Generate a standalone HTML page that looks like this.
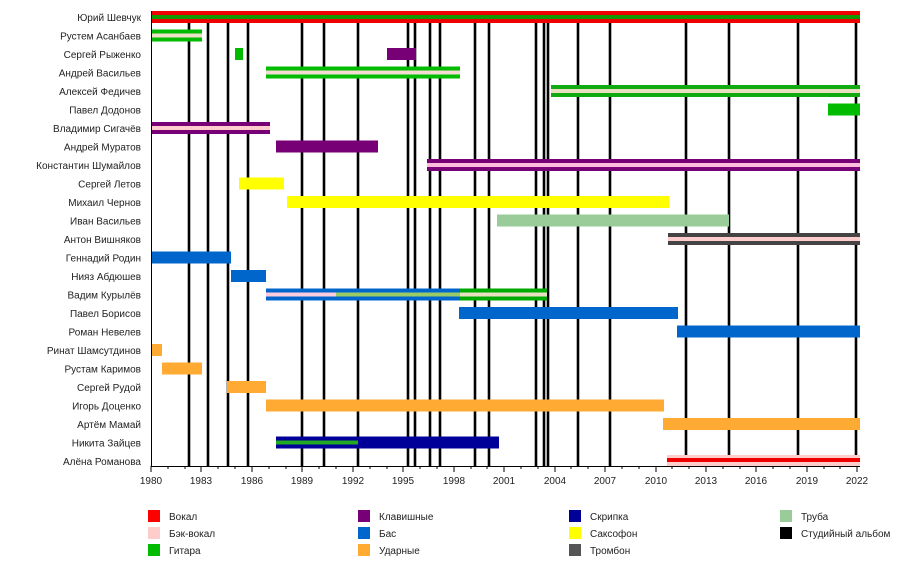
<!DOCTYPE html>
<html><head><meta charset="utf-8"><style>
body{margin:0;background:#fff}
svg{display:block;font-family:"Liberation Sans",sans-serif}
</style></head><body>
<svg width="900" height="566" viewBox="0 0 900 566" xmlns="http://www.w3.org/2000/svg">
<rect width="900" height="566" fill="#fff"/>
<g stroke="#000" stroke-width="2.6">
<line x1="189" y1="11" x2="189" y2="466"/><line x1="208" y1="11" x2="208" y2="466"/>
<line x1="228" y1="11" x2="228" y2="466"/><line x1="248" y1="11" x2="248" y2="466"/>
<line x1="302" y1="11" x2="302" y2="466"/><line x1="324" y1="11" x2="324" y2="466"/>
<line x1="358" y1="11" x2="358" y2="466"/><line x1="408" y1="11" x2="408" y2="466"/>
<line x1="415" y1="11" x2="415" y2="466"/><line x1="430" y1="11" x2="430" y2="466"/>
<line x1="440" y1="11" x2="440" y2="466"/><line x1="475" y1="11" x2="475" y2="466"/>
<line x1="489" y1="11" x2="489" y2="466"/><line x1="536" y1="11" x2="536" y2="466"/>
<line x1="544" y1="11" x2="544" y2="466"/><line x1="548" y1="11" x2="548" y2="466"/>
<line x1="578" y1="11" x2="578" y2="466"/><line x1="610" y1="11" x2="610" y2="466"/>
<line x1="686" y1="11" x2="686" y2="466"/><line x1="729" y1="11" x2="729" y2="466"/>
<line x1="798" y1="11" x2="798" y2="466"/><line x1="856" y1="11" x2="856" y2="466"/>
</g>
<!-- bars: row i top = 11 + i*18.5 -->
<rect x="151" y="11" width="709" height="12" fill="#e00"/><rect x="151" y="15" width="709" height="4" fill="#190"/>
<rect x="151" y="29.5" width="51" height="12" fill="#0b0"/><rect x="151" y="33.5" width="51" height="4" fill="#efe0c8"/>
<rect x="235" y="48" width="8" height="12" fill="#0b0"/><rect x="387" y="48" width="29" height="12" fill="#707"/>
<rect x="266" y="66.5" width="194" height="12" fill="#0b0"/><rect x="266" y="70.5" width="194" height="4" fill="#f4dcd4"/>
<rect x="551" y="85" width="309" height="12" fill="#1a1"/><rect x="551" y="89" width="309" height="4" fill="#e8e0c0"/>
<rect x="828" y="103.5" width="32" height="12" fill="#0b0"/>
<rect x="151" y="122" width="119" height="12" fill="#707"/><rect x="151" y="126" width="119" height="4" fill="#fcc"/>
<rect x="276" y="140.5" width="102" height="12" fill="#707"/>
<rect x="427" y="159" width="433" height="12" fill="#707"/><rect x="427" y="163" width="433" height="4" fill="#fbd"/>
<rect x="239" y="177.5" width="45" height="12" fill="#ff0"/>
<rect x="287" y="196" width="382" height="12" fill="#ff0"/>
<rect x="497" y="214.5" width="232" height="12" fill="#9c9"/>
<rect x="668" y="233" width="192" height="12" fill="#444"/><rect x="668" y="237" width="192" height="4" fill="#fcc"/>
<rect x="151" y="251.5" width="80" height="12" fill="#06c"/>
<rect x="231" y="270" width="35" height="12" fill="#06c"/>
<rect x="266" y="288.5" width="194" height="12" fill="#06c"/><rect x="266" y="292.5" width="70" height="4" fill="#fcd"/><rect x="336" y="292.5" width="124" height="4" fill="#9c6"/>
<rect x="460" y="288.5" width="87" height="12" fill="#0a0"/><rect x="460" y="292.5" width="87" height="4" fill="#e8e0c0"/>
<rect x="459" y="307" width="219" height="12" fill="#06c"/>
<rect x="677" y="325.5" width="183" height="12" fill="#06c"/>
<rect x="151" y="344" width="11" height="12" fill="#fa3"/>
<rect x="162" y="362.5" width="40" height="12" fill="#fa3"/>
<rect x="227" y="381" width="39" height="12" fill="#fa3"/>
<rect x="266" y="399.5" width="398" height="12" fill="#fa3"/>
<rect x="663" y="418" width="197" height="12" fill="#fa3"/>
<rect x="276" y="436.5" width="223" height="12" fill="#009"/><rect x="276" y="440.5" width="82" height="4" fill="#2a2"/>
<rect x="667" y="455" width="193" height="11" fill="#fcc"/><rect x="667" y="458" width="193" height="4" fill="#e00"/>
<!-- axis -->
<g stroke="#000" stroke-width="1">
<line x1="151" y1="466.5" x2="860" y2="466.5"/>
<line x1="151.5" y1="11" x2="151.5" y2="467"/>
</g>
<g stroke="#000" stroke-width="1" id="ticks">
<line x1="151" y1="466" x2="151" y2="472"/><line x1="168" y1="466" x2="168" y2="469"/><line x1="185" y1="466" x2="185" y2="469"/>
<line x1="201" y1="466" x2="201" y2="472"/><line x1="218" y1="466" x2="218" y2="469"/><line x1="235" y1="466" x2="235" y2="469"/>
<line x1="252" y1="466" x2="252" y2="472"/><line x1="269" y1="466" x2="269" y2="469"/><line x1="286" y1="466" x2="286" y2="469"/>
<line x1="302" y1="466" x2="302" y2="472"/><line x1="319" y1="466" x2="319" y2="469"/><line x1="336" y1="466" x2="336" y2="469"/>
<line x1="353" y1="466" x2="353" y2="472"/><line x1="370" y1="466" x2="370" y2="469"/><line x1="387" y1="466" x2="387" y2="469"/>
<line x1="403" y1="466" x2="403" y2="472"/><line x1="420" y1="466" x2="420" y2="469"/><line x1="437" y1="466" x2="437" y2="469"/>
<line x1="454" y1="466" x2="454" y2="472"/><line x1="471" y1="466" x2="471" y2="469"/><line x1="487" y1="466" x2="487" y2="469"/>
<line x1="504" y1="466" x2="504" y2="472"/><line x1="521" y1="466" x2="521" y2="469"/><line x1="538" y1="466" x2="538" y2="469"/>
<line x1="555" y1="466" x2="555" y2="472"/><line x1="571" y1="466" x2="571" y2="469"/><line x1="588" y1="466" x2="588" y2="469"/>
<line x1="605" y1="466" x2="605" y2="472"/><line x1="622" y1="466" x2="622" y2="469"/><line x1="639" y1="466" x2="639" y2="469"/>
<line x1="656" y1="466" x2="656" y2="472"/><line x1="672" y1="466" x2="672" y2="469"/><line x1="689" y1="466" x2="689" y2="469"/>
<line x1="706" y1="466" x2="706" y2="472"/><line x1="723" y1="466" x2="723" y2="469"/><line x1="740" y1="466" x2="740" y2="469"/>
<line x1="756" y1="466" x2="756" y2="472"/><line x1="773" y1="466" x2="773" y2="469"/><line x1="790" y1="466" x2="790" y2="469"/>
<line x1="807" y1="466" x2="807" y2="472"/><line x1="824" y1="466" x2="824" y2="469"/><line x1="840" y1="466" x2="840" y2="469"/>
<line x1="857" y1="466" x2="857" y2="472"/>
</g>
<g font-size="10" fill="#222" text-anchor="middle">
<text x="151" y="484">1980</text><text x="201" y="484">1983</text><text x="252" y="484">1986</text>
<text x="302" y="484">1989</text><text x="353" y="484">1992</text><text x="403" y="484">1995</text>
<text x="454" y="484">1998</text><text x="504" y="484">2001</text><text x="555" y="484">2004</text>
<text x="605" y="484">2007</text><text x="656" y="484">2010</text><text x="706" y="484">2013</text>
<text x="756" y="484">2016</text><text x="807" y="484">2019</text><text x="857" y="484">2022</text>
</g>
<g font-size="10" fill="#222" text-anchor="end">
<text x="141" y="21">Юрий Шевчук</text>
<text x="141" y="39.5">Рустем Асанбаев</text>
<text x="141" y="58">Сергей Рыженко</text>
<text x="141" y="76.5">Андрей Васильев</text>
<text x="141" y="95">Алексей Федичев</text>
<text x="141" y="113.5">Павел Додонов</text>
<text x="141" y="132">Владимир Сигачёв</text>
<text x="141" y="150.5">Андрей Муратов</text>
<text x="141" y="169">Константин Шумайлов</text>
<text x="141" y="187.5">Сергей Летов</text>
<text x="141" y="206">Михаил Чернов</text>
<text x="141" y="224.5">Иван Васильев</text>
<text x="141" y="243">Антон Вишняков</text>
<text x="141" y="261.5">Геннадий Родин</text>
<text x="141" y="280">Нияз Абдюшев</text>
<text x="141" y="298.5">Вадим Курылёв</text>
<text x="141" y="317">Павел Борисов</text>
<text x="141" y="335.5">Роман Невелев</text>
<text x="141" y="354">Ринат Шамсутдинов</text>
<text x="141" y="372.5">Рустам Каримов</text>
<text x="141" y="391">Сергей Рудой</text>
<text x="141" y="409.5">Игорь Доценко</text>
<text x="141" y="428">Артём Мамай</text>
<text x="141" y="446.5">Никита Зайцев</text>
<text x="141" y="465">Алёна Романова</text>
</g>
<!-- legend -->
<rect x="148" y="510" width="12" height="12" fill="#f00"/>
<rect x="148" y="527" width="12" height="12" fill="#fcc"/>
<rect x="148" y="544" width="12" height="12" fill="#0b0"/>
<rect x="358" y="510" width="12" height="12" fill="#707"/>
<rect x="358" y="527" width="12" height="12" fill="#06c"/>
<rect x="358" y="544" width="12" height="12" fill="#fa3"/>
<rect x="569" y="510" width="12" height="12" fill="#009"/>
<rect x="569" y="527" width="12" height="12" fill="#ff0"/>
<rect x="569" y="544" width="12" height="12" fill="#555"/>
<rect x="780" y="510" width="12" height="12" fill="#9c9"/>
<rect x="780" y="527" width="12" height="12" fill="#000"/>
<g font-size="10" fill="#222">
<text x="169" y="520">Вокал</text><text x="169" y="537">Бэк-вокал</text><text x="169" y="554">Гитара</text>
<text x="379" y="520">Клавишные</text><text x="379" y="537">Бас</text><text x="379" y="554">Ударные</text>
<text x="590" y="520">Скрипка</text><text x="590" y="537">Саксофон</text><text x="590" y="554">Тромбон</text>
<text x="801" y="520">Труба</text><text x="801" y="537">Студийный альбом</text>
</g>
</svg>
</body></html>
